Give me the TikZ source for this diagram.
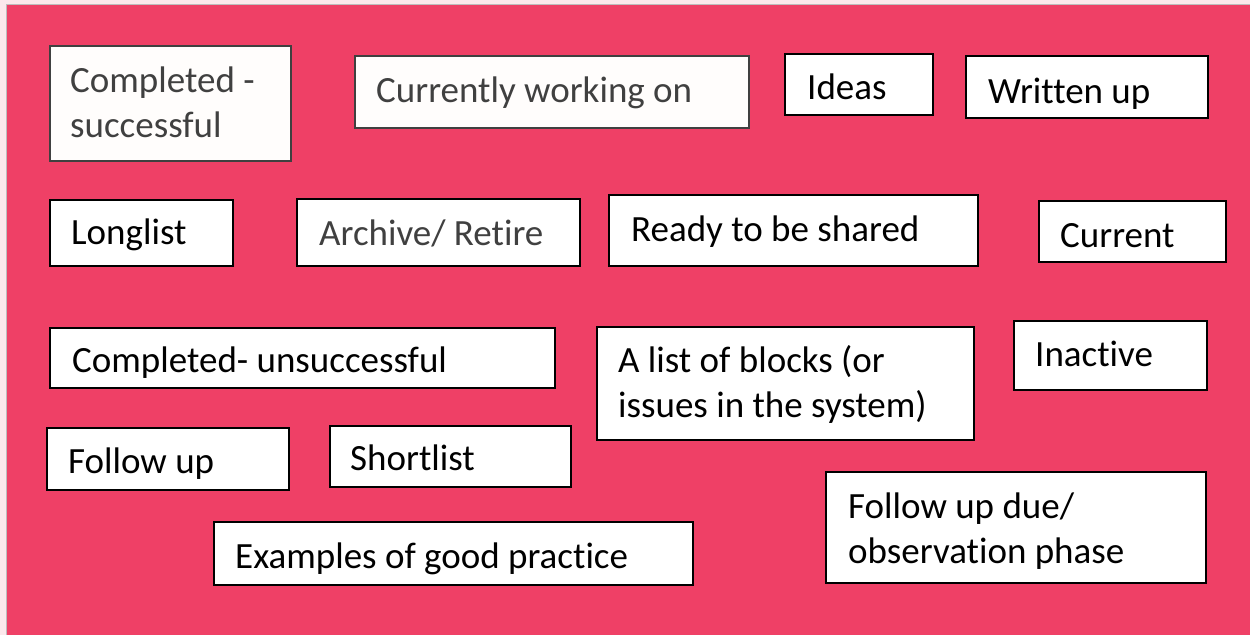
\documentclass[tikz,border=0pt]{standalone}
\usepackage{fontspec}
\setmainfont{Carlito}[Ligatures=NoCommon]
\definecolor{bgpink}{HTML}{EF4066}
\definecolor{outerpink}{HTML}{FCE8EC}
\definecolor{framegrey}{HTML}{BDBDBD}
\definecolor{darkgrey}{HTML}{404040}
\definecolor{offwhite}{HTML}{FFFDFC}
\begin{document}
\begin{tikzpicture}[x=1pt,y=-1pt,
  card/.style={draw=black,line width=1.6pt,fill=white,inner sep=0pt,outer sep=0pt},
  greycard/.style={card,draw=darkgrey,fill=offwhite},
  lbl/.style={anchor=base west,inner sep=0pt,font=\fontsize{37}{45}\selectfont,text=black},
  greylbl/.style={lbl,text=darkgrey}]
\useasboundingbox (0,0) rectangle (1250,635);
\fill[outerpink] (0,0) rectangle (1250,635);
\fill[bgpink] (7,5) rectangle (1250,635);
\draw[framegrey,line width=1.5pt] (6.5,635) -- (6.5,4.5) -- (1250,4.5);
% boxes
\node[greycard,minimum width=241pt,minimum height=115pt,anchor=north west] (b1) at (50,46) {};
\node[greycard,minimum width=394pt,minimum height=72pt,anchor=north west] (b2) at (355,56) {};
\node[card,minimum width=148pt,minimum height=61pt,anchor=north west] (b3) at (785,54) {};
\node[card,minimum width=242pt,minimum height=62pt,anchor=north west] (b4) at (966,56) {};
\node[card,minimum width=183pt,minimum height=66pt,anchor=north west] (b5) at (50,200) {};
\node[card,minimum width=283pt,minimum height=67pt,anchor=north west] (b6) at (297,199) {};
\node[card,minimum width=369pt,minimum height=71pt,anchor=north west] (b7) at (609,195) {};
\node[card,minimum width=187pt,minimum height=61pt,anchor=north west] (b8) at (1039,201) {};
\node[card,minimum width=505pt,minimum height=60pt,anchor=north west] (b9) at (50,328) {};
\node[card,minimum width=377pt,minimum height=113pt,anchor=north west] (b10) at (597,327) {};
\node[card,minimum width=193pt,minimum height=69pt,anchor=north west] (b11) at (1014,321) {};
\node[card,minimum width=242pt,minimum height=62pt,anchor=north west] (b12) at (47,428) {};
\node[card,minimum width=241pt,minimum height=61pt,anchor=north west] (b13) at (330,426) {};
\node[card,minimum width=479pt,minimum height=63pt,anchor=north west] (b14) at (214,522) {};
\node[card,minimum width=380pt,minimum height=111pt,anchor=north west] (b15) at (826,472) {};
% texts
\node[greylbl] (t1a) at (70,92) {Completed -};
\node[greylbl] (t1b) at (70,137) {successful};
\node[greylbl] (t2) at (376,102) {Currently working on};
\node[lbl] (t3) at (807,99) {Ideas};
\node[lbl] (t4) at (988,103) {Written up};
\node[lbl] (t5) at (71,244) {Longlist};
\node[greylbl] (t6) at (319,245) {Archive/ Retire};
\node[lbl] (t7) at (631,241) {Ready to be shared};
\node[lbl] (t8) at (1060,247) {Current};
\node[lbl] (t9) at (72,372) {Completed- unsuccessful};
\node[lbl] (t10a) at (618,372) {A list of blocks (or};
\node[lbl] (t10b) at (618,417) {issues in the system)};
\node[lbl] (t11) at (1035,366) {Inactive};
\node[lbl] (t12) at (68,473) {Follow up};
\node[lbl] (t13) at (350,470) {Shortlist};
\node[lbl] (t14) at (235,568) {Examples of good practice};
\node[lbl] (t15a) at (848,518) {Follow up due/};
\node[lbl] (t15b) at (848,563) {observation phase};
\end{tikzpicture}
\end{document}
